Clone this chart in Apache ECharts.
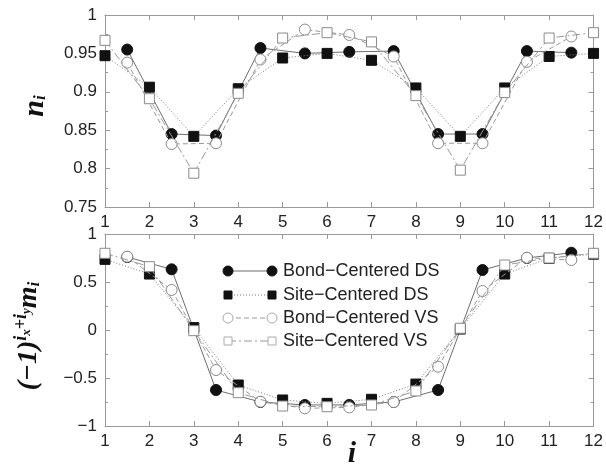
<!DOCTYPE html>
<html>
<head>
<meta charset="UTF-8">
<title>n_i and m_i profiles</title>
<script src="https://cdn.jsdelivr.net/npm/echarts@6/dist/echarts.min.js"></script>
<style>
  body { margin: 0; background: #fff; }
  #chart { width: 606px; height: 467px; }
</style>
</head>
<body>
<div id="chart"></div>
<script>
// positions: bond-centered sit on half sites, site-centered on sites
const bondX = [1.5, 2.5, 3.5, 4.5, 5.5, 6.5, 7.5, 8.5, 9.5, 10.5, 11.5];
const siteX = [1, 2, 3, 4, 5, 6, 7, 8, 9, 10, 11, 12];

// top panel: n_i
const nBondDS = [0.955, 0.845, 0.843, 0.957, 0.950, 0.952, 0.953, 0.845, 0.845, 0.953, 0.951];
const nSiteDS = [0.947, 0.906, 0.842, 0.904, 0.944, 0.950, 0.941, 0.905, 0.842, 0.905, 0.946, 0.950];
const nBondVS = [0.938, 0.832, 0.833, 0.942, 0.981, 0.974, 0.946, 0.833, 0.833, 0.939, 0.972];
const nSiteVS = [0.967, 0.891, 0.794, 0.898, 0.970, 0.977, 0.965, 0.895, 0.798, 0.899, 0.970, 0.977];

// bottom panel: staggered m_i
const mBondDS = [0.76, 0.632, -0.625, -0.75, -0.781, -0.78, -0.75, -0.625, 0.625, 0.75, 0.805];
const mSiteDS = [0.736, 0.583, 0.025, -0.573, -0.729, -0.764, -0.722, -0.563, 0.01, 0.583, 0.747, 0.79];
const mBondVS = [0.764, 0.417, -0.417, -0.747, -0.816, -0.806, -0.75, -0.382, 0.406, 0.753, 0.729];
const mSiteVS = [0.799, 0.66, -0.007, -0.653, -0.792, -0.799, -0.781, -0.635, 0.018, 0.677, 0.75, 0.799];

const seriesNames = ['Bond\u2212Centered DS', 'Site\u2212Centered DS', 'Bond\u2212Centered VS', 'Site\u2212Centered VS'];

const styles = [
  { symbol: 'circle', size: 11, fill: '#111', border: '#111', line: '#6e6e6e', dash: 'solid' },
  { symbol: 'rect', size: 10, fill: '#111', border: '#111', line: '#777', dash: [1, 2] },
  { symbol: 'circle', size: 11, fill: '#fff', border: '#8a8a8a', line: '#999', dash: [5, 3] },
  { symbol: 'rect', size: 10, fill: '#fff', border: '#8a8a8a', line: '#999', dash: [8, 3, 2, 3] }
];

const zip = (xs, ys) => xs.map((x, k) => [x, ys[k]]);

const axisGray = '#999';
const labelFont = { color: '#222', fontSize: 17, fontFamily: 'Liberation Sans' };
const minus = v => String(v).replace('-', '\u2212');

function xAxes(gridIndex) {
  return [
    {
      gridIndex, type: 'value', min: 1, max: 12, interval: 1,
      axisLine: { onZero: false, lineStyle: { color: axisGray } },
      axisTick: { inside: true, length: 5, lineStyle: { color: axisGray } },
      axisLabel: Object.assign({ margin: 7 }, labelFont),
      splitLine: { show: false }
    },
    {
      gridIndex, type: 'value', min: 1, max: 12, interval: 1, position: 'top',
      axisLine: { onZero: false, lineStyle: { color: axisGray } },
      axisTick: { inside: true, length: 5, lineStyle: { color: axisGray } },
      axisLabel: { show: false }, splitLine: { show: false }
    }
  ];
}

function yAxes(gridIndex, min, max, interval) {
  return [
    {
      gridIndex, type: 'value', min, max, interval,
      axisLine: { show: true, onZero: false, lineStyle: { color: axisGray } },
      axisTick: { inside: true, length: 5, lineStyle: { color: axisGray } },
      minorTick: { show: true, splitNumber: 2, length: 3, lineStyle: { color: axisGray } },
      axisLabel: Object.assign({ margin: 8, formatter: minus }, labelFont),
      splitLine: { show: false }
    },
    {
      gridIndex, type: 'value', min, max, interval, position: 'right',
      axisLine: { show: true, onZero: false, lineStyle: { color: axisGray } },
      axisTick: { inside: true, length: 5, lineStyle: { color: axisGray } },
      minorTick: { show: true, splitNumber: 2, length: 3, lineStyle: { color: axisGray } },
      axisLabel: { show: false }, splitLine: { show: false }
    }
  ];
}

function makeSeries(gridIdx, datasets) {
  return datasets.map((d, k) => {
    const s = styles[k];
    return {
      name: seriesNames[k],
      type: 'line',
      xAxisIndex: gridIdx * 2,
      yAxisIndex: gridIdx * 2,
      data: zip(d[0], d[1]),
      symbol: s.symbol,
      symbolSize: s.size,
      showAllSymbol: true,
      itemStyle: { color: s.fill, borderColor: s.border, borderWidth: 1 },
      lineStyle: { color: s.line, width: 1, type: s.dash },
      z: 2 + k
    };
  });
}

// legend drawn as symbol - line - symbol like the original
const legendItems = [];
const legendRows = [271, 295, 318, 341];
styles.forEach((s, k) => {
  const y = legendRows[k];
  const hollow = s.fill === '#fff';
  legendItems.push({
    type: 'line', shape: { x1: 228, y1: y, x2: 272, y2: y },
    style: { stroke: s.line, lineWidth: 1, lineDash: s.dash === 'solid' ? null : s.dash }, z: 10
  });
  [228, 272].forEach(cx => {
    if (s.symbol === 'circle') {
      legendItems.push({ type: 'circle', shape: { cx, cy: y, r: 5 },
        style: { fill: s.fill, stroke: hollow ? '#aaa' : s.border, lineWidth: 1 }, z: 11 });
    } else {
      legendItems.push({ type: 'rect', shape: { x: cx - 4, y: y - 4, width: 8, height: 8 },
        style: { fill: s.fill, stroke: hollow ? '#aaa' : s.border, lineWidth: 1 }, z: 11 });
    }
  });
  legendItems.push({
    type: 'text', x: 283, y: y,
    style: { text: seriesNames[k], fill: '#222', font: '18px "Liberation Sans"', verticalAlign: 'middle' }, z: 11
  });
});

const serif = '"Liberation Serif"';
const chart = echarts.init(document.getElementById('chart'));
chart.setOption({
  animation: false,
  backgroundColor: '#fff',
  grid: [
    { left: 105, right: 8, top: 15, height: 192 },
    { left: 105, right: 8, top: 234, height: 192 }
  ],
  xAxis: xAxes(0).concat(xAxes(1)),
  yAxis: yAxes(0, 0.75, 1, 0.05).concat(yAxes(1, -1, 1, 0.5)),
  series: makeSeries(0, [[bondX, nBondDS], [siteX, nSiteDS], [bondX, nBondVS], [siteX, nSiteVS]])
    .concat(makeSeries(1, [[bondX, mBondDS], [siteX, mSiteDS], [bondX, mBondVS], [siteX, mSiteVS]])),
  graphic: legendItems.concat([
    {
      type: 'text', x: 35, y: 106, rotation: Math.PI / 2,
      style: {
        text: '{b|n}{s|i}', align: 'center', verticalAlign: 'middle',
        rich: {
          b: { font: 'italic bold 30px ' + serif, fill: '#111' },
          s: { font: 'italic bold 17px ' + serif, fill: '#111', padding: [12, 0, 0, 0] }
        }
      }
    },
    {
      type: 'text', x: 29, y: 336, rotation: Math.PI / 2,
      style: {
        text: '{b|(\u22121)}{p|i}{q|x}{p|+i}{q|y}{b|m}{s|i}', align: 'center', verticalAlign: 'middle',
        rich: {
          b: { font: 'italic bold 28px ' + serif, fill: '#111' },
          p: { font: 'italic bold 18px ' + serif, fill: '#111', padding: [0, 0, 15, 0] },
          q: { font: 'italic bold 13px ' + serif, fill: '#111', padding: [0, 0, 4, 0] },
          s: { font: 'italic bold 17px ' + serif, fill: '#111', padding: [12, 0, 0, 0] }
        }
      }
    },
    {
      type: 'text', x: 352, y: 454,
      style: { text: 'i', font: 'italic bold 30px ' + serif, fill: '#111', align: 'center', verticalAlign: 'middle' }
    }
  ])
});
</script>
</body>
</html>
